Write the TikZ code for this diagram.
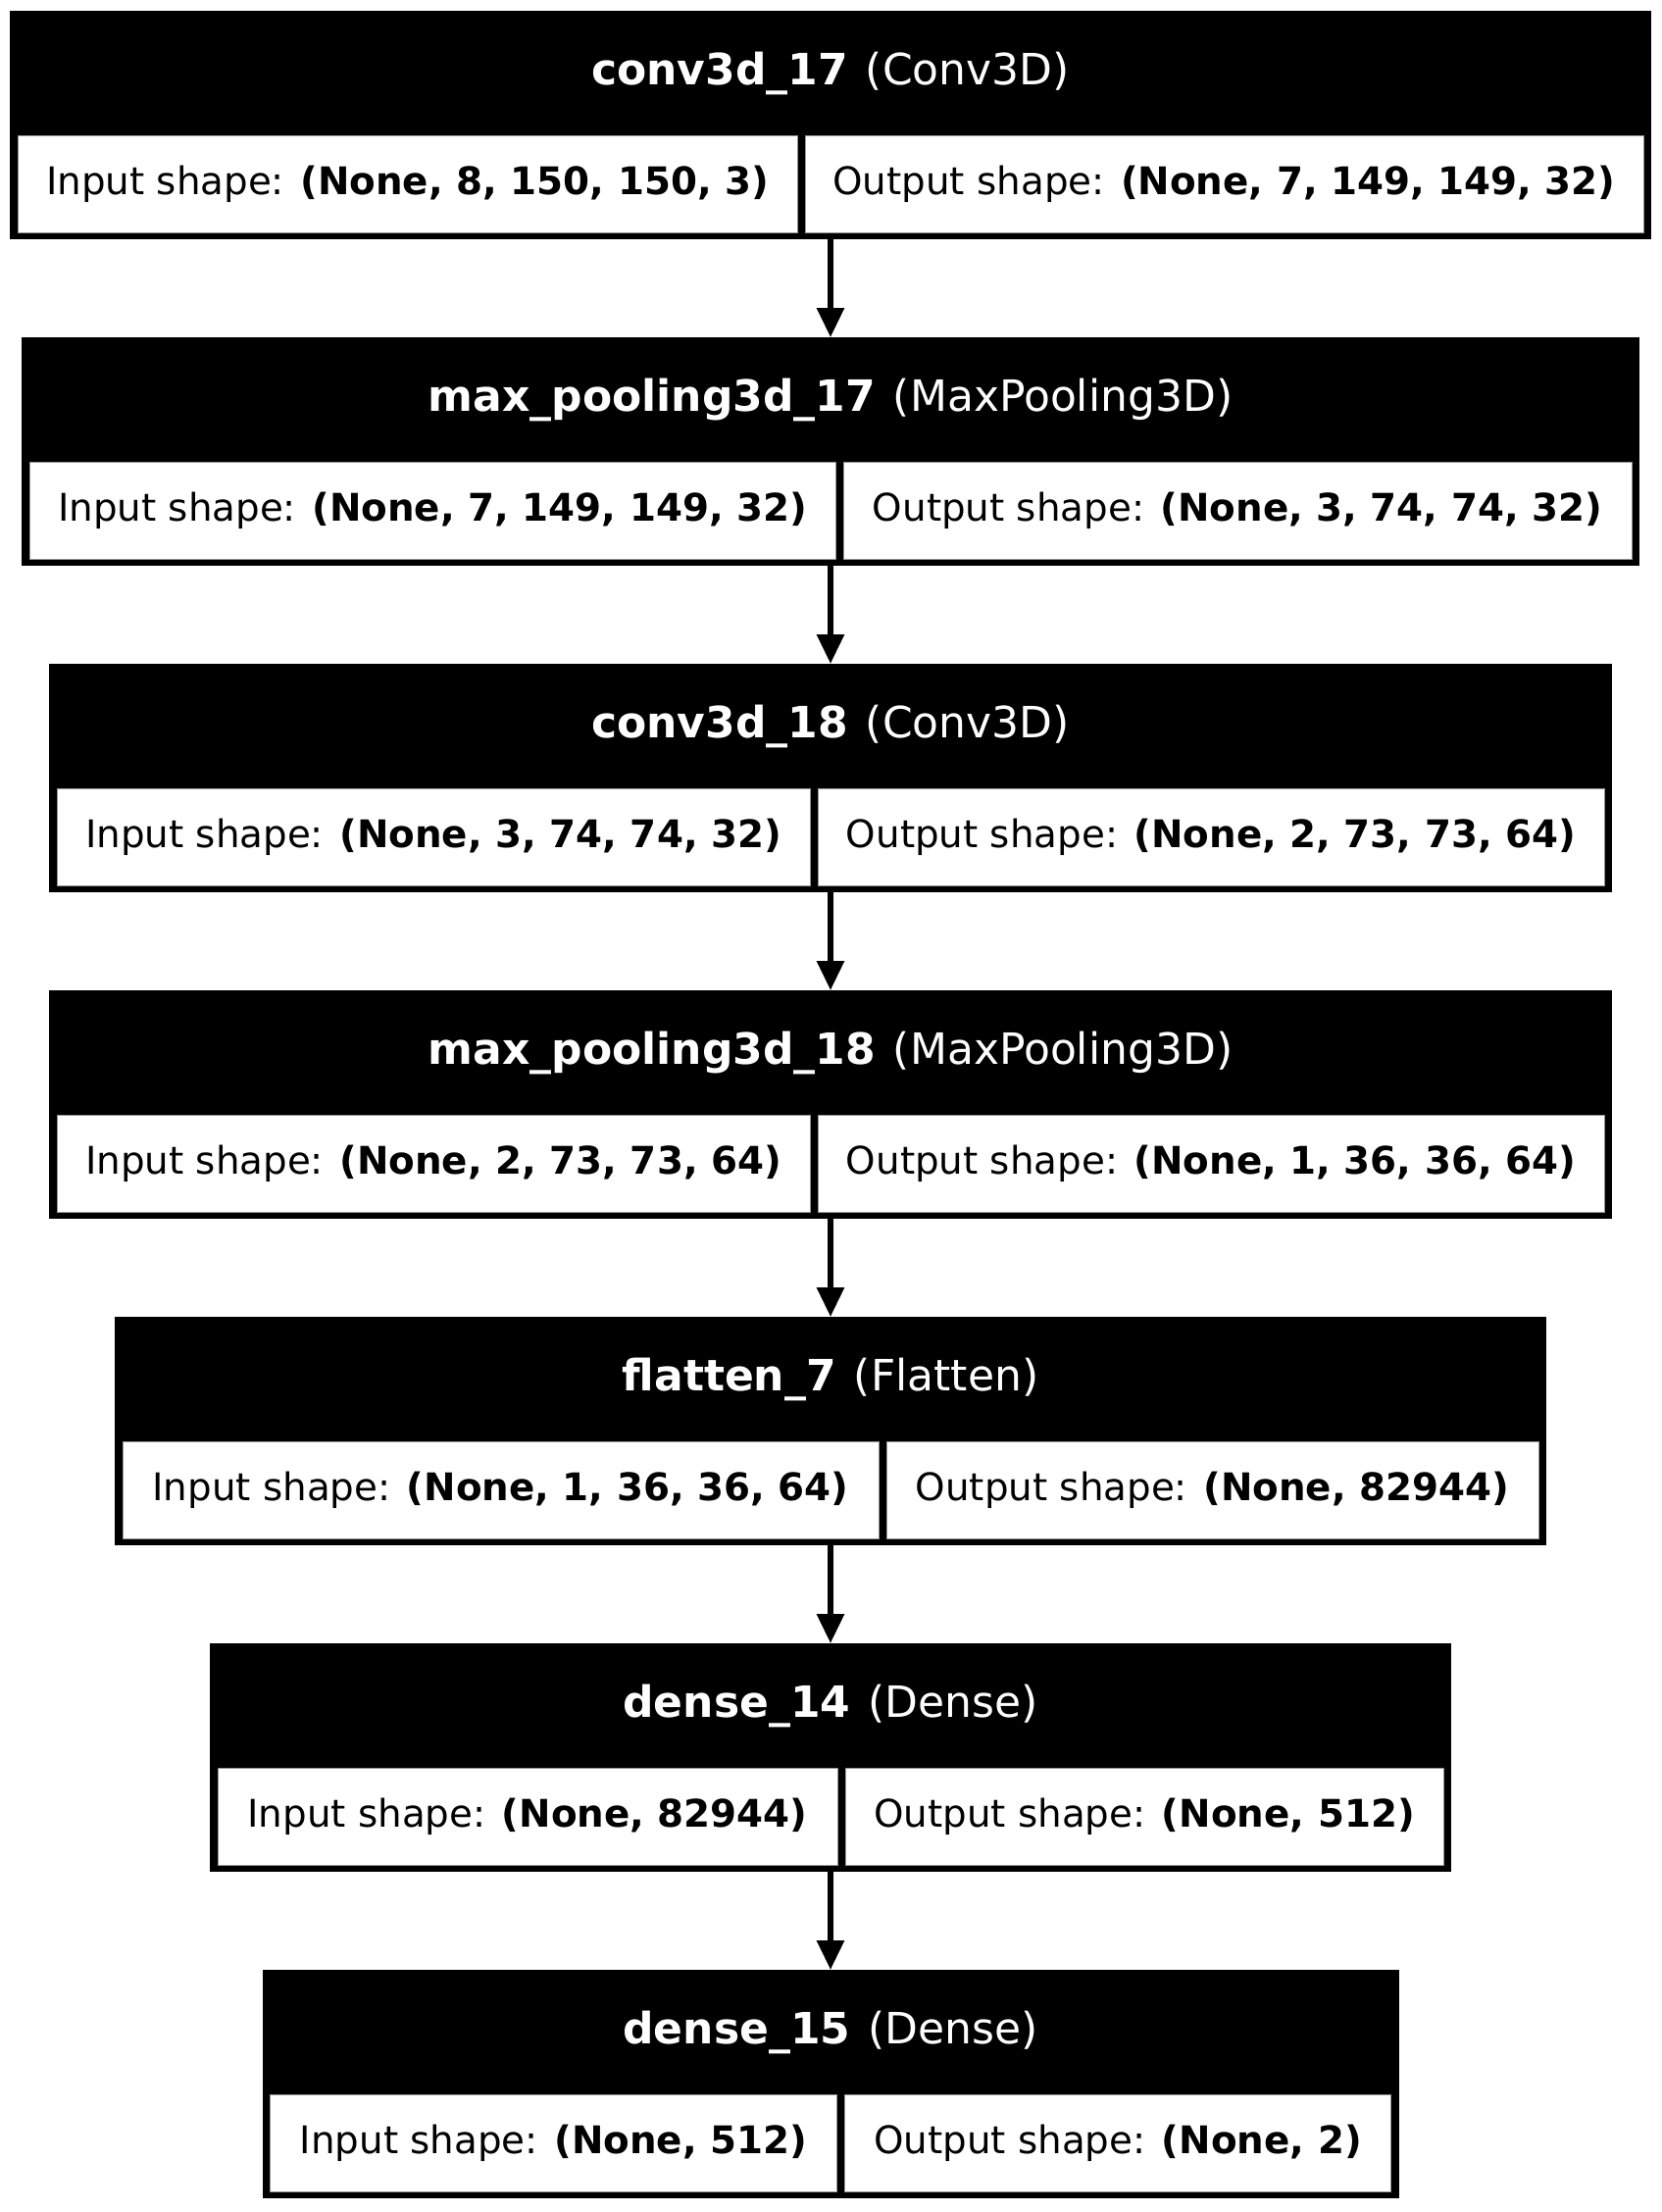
\documentclass[tikz,border=0pt]{standalone}
\usepackage{fontspec}
\setmainfont{DejaVu Sans}
\usetikzlibrary{positioning,arrows.meta}

\definecolor{cellLine}{RGB}{150,150,150}

\begin{document}
\begin{tikzpicture}[
        layer/.style={rectangle, draw=none, fill=black, outer sep=0pt, inner sep=0pt, minimum height=116.5pt},
        title/.style={font=\fontsize{22}{26}\selectfont, text=white, inner sep=0pt},
        cell/.style={rectangle, draw=cellLine, line width=0.5pt, fill=white, outer sep=0pt, inner sep=0pt, minimum height=49.5pt, font=\fontsize{19.4}{23}\selectfont, text=black},
        flow/.style={line width=3pt, -{Triangle[length=15pt, width=13.5pt]}}
    ]
        \useasboundingbox (0,0) rectangle (847pt,-1128pt);
        % layer frames
        \node[layer, minimum width=837pt, anchor=north] (conv1) at (423.5pt,-5.5pt) {};
        \node[layer, minimum width=825pt, below=50pt of conv1] (pool1) {};
        \node[layer, minimum width=797pt, below=50pt of pool1] (conv2) {};
        \node[layer, minimum width=797pt, below=50pt of conv2] (pool2) {};
        \node[layer, minimum width=730pt, below=50pt of pool2] (flat) {};
        \node[layer, minimum width=633pt, below=50pt of flat] (dense1) {};
        \node[layer, minimum width=579.5pt, below=50pt of dense1] (dense2) {};
        % titles
        \node[title] at ([yshift=-31.75pt]conv1.north) {\textbf{conv3d\_17} \hspace{2pt}(Conv3D)};
        \node[title] at ([yshift=-31.75pt]pool1.north) {\textbf{max\_pooling3d\_17} \hspace{2pt}(MaxPooling3D)};
        \node[title] at ([yshift=-31.75pt]conv2.north) {\textbf{conv3d\_18} \hspace{2pt}(Conv3D)};
        \node[title] at ([yshift=-31.75pt]pool2.north) {\textbf{max\_pooling3d\_18} \hspace{2pt}(MaxPooling3D)};
        \node[title] at ([yshift=-31.75pt]flat.north) {\textbf{flatten\_7} \hspace{2pt}(Flatten)};
        \node[title] at ([yshift=-31.75pt]dense1.north) {\textbf{dense\_14} \hspace{2pt}(Dense)};
        \node[title] at ([yshift=-31.75pt]dense2.north) {\textbf{dense\_15} \hspace{2pt}(Dense)};
        % shape cells
        \node[cell, minimum width=397.5pt, anchor=north west] (conv1in) at ([xshift=4pt,yshift=-63.5pt]conv1.north west) {Input shape: \textbf{(None, 8, 150, 150, 3)}};
        \node[cell, minimum width=427.5pt, anchor=north east] (conv1out) at ([xshift=-4pt,yshift=-63.5pt]conv1.north east) {Output shape: \textbf{(None, 7, 149, 149, 32)}};
        \node[cell, minimum width=411pt, anchor=north west] (pool1in) at ([xshift=4pt,yshift=-63.5pt]pool1.north west) {Input shape: \textbf{(None, 7, 149, 149, 32)}};
        \node[cell, minimum width=402pt, anchor=north east] (pool1out) at ([xshift=-4pt,yshift=-63.5pt]pool1.north east) {Output shape: \textbf{(None, 3, 74, 74, 32)}};
        \node[cell, minimum width=384pt, anchor=north west] (conv2in) at ([xshift=4pt,yshift=-63.5pt]conv2.north west) {Input shape: \textbf{(None, 3, 74, 74, 32)}};
        \node[cell, minimum width=401pt, anchor=north east] (conv2out) at ([xshift=-4pt,yshift=-63.5pt]conv2.north east) {Output shape: \textbf{(None, 2, 73, 73, 64)}};
        \node[cell, minimum width=384pt, anchor=north west] (pool2in) at ([xshift=4pt,yshift=-63.5pt]pool2.north west) {Input shape: \textbf{(None, 2, 73, 73, 64)}};
        \node[cell, minimum width=401pt, anchor=north east] (pool2out) at ([xshift=-4pt,yshift=-63.5pt]pool2.north east) {Output shape: \textbf{(None, 1, 36, 36, 64)}};
        \node[cell, minimum width=385.5pt, anchor=north west] (flatin) at ([xshift=4pt,yshift=-63.5pt]flat.north west) {Input shape: \textbf{(None, 1, 36, 36, 64)}};
        \node[cell, minimum width=332.5pt, anchor=north east] (flatout) at ([xshift=-4pt,yshift=-63.5pt]flat.north east) {Output shape: \textbf{(None, 82944)}};
        \node[cell, minimum width=316pt, anchor=north west] (dense1in) at ([xshift=4pt,yshift=-63.5pt]dense1.north west) {Input shape: \textbf{(None, 82944)}};
        \node[cell, minimum width=305pt, anchor=north east] (dense1out) at ([xshift=-4pt,yshift=-63.5pt]dense1.north east) {Output shape: \textbf{(None, 512)}};
        \node[cell, minimum width=289pt, anchor=north west] (dense2in) at ([xshift=4pt,yshift=-63.5pt]dense2.north west) {Input shape: \textbf{(None, 512)}};
        \node[cell, minimum width=278.5pt, anchor=north east] (dense2out) at ([xshift=-4pt,yshift=-63.5pt]dense2.north east) {Output shape: \textbf{(None, 2)}};
        % connectors
        \draw[flow] (conv1.south) -- (pool1.north);
        \draw[flow] (pool1.south) -- (conv2.north);
        \draw[flow] (conv2.south) -- (pool2.north);
        \draw[flow] (pool2.south) -- (flat.north);
        \draw[flow] (flat.south) -- (dense1.north);
        \draw[flow] (dense1.south) -- (dense2.north);
    \end{tikzpicture}
\end{document}
